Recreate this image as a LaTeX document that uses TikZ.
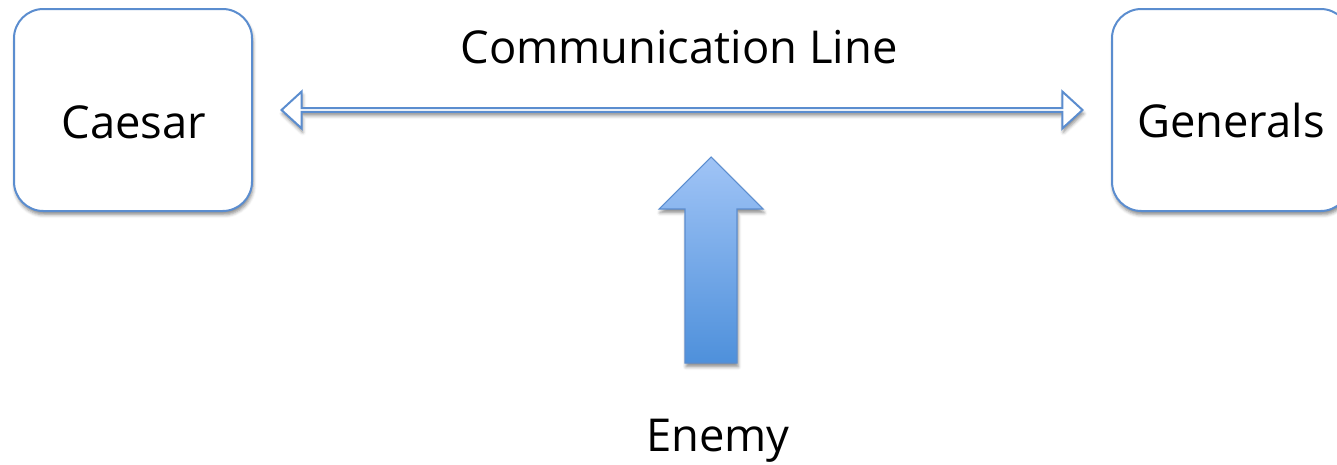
\documentclass[tikz,border=0pt]{standalone}
\usepackage{fontspec}
\setmainfont{Open Sans}
\usetikzlibrary{positioning,calc,shapes.arrows,shadows.blur}

\definecolor{lineblue}{RGB}{91,141,207}
\definecolor{topblue}{RGB}{160,196,246}
\definecolor{bottomblue}{RGB}{78,144,219}

\tikzset{
  softshadow/.style={blur shadow={shadow xshift=0.8pt, shadow yshift=-2.8pt,
      shadow blur radius=2.5pt, shadow opacity=45}},
  party/.style={draw=lineblue, line width=1.5pt, fill=white, rounded corners=22pt,
      minimum width=178.5pt, minimum height=151.5pt, inner sep=0pt, softshadow},
  word/.style={font=\fontsize{34}{40}\selectfont, inner sep=0pt, anchor=base},
  commline/.style={double arrow, draw=lineblue, line width=1.5pt, fill=white,
      minimum height=600.75pt, minimum width=27.75pt, inner sep=0pt,
      double arrow head extend=6.4pt, double arrow tip angle=85, softshadow},
  attack/.style={draw=lineblue, line width=0.8pt, top color=topblue,
      bottom color=bottomblue, softshadow}
}

\begin{document}
\begin{tikzpicture}[x=0.75pt, y=-0.75pt]
\useasboundingbox (0,0) rectangle (1337,464);

% The two parties
\node[party] (caesar) at (133,110) {};
\node[party] (generals) at (1231,110) {};
\node[word] (caesarname) at (134,138) {Caesar};
\node[word] (generalsname) at (1231,137) {Generals};

% Line between them
\node[commline] (line) at ($(caesar.east)!0.5!(generals.west)$) {};
\node[word] (linename) at (679,63) {Communication Line};

% Enemy pushing on the line
\path[attack] (685,363) -- (685,209) -- (659,209) -- (711,157)
  -- (763,209) -- (737,209) -- (737,363) -- cycle;
\node[word] (enemy) at (718,451) {Enemy};
\end{tikzpicture}
\end{document}
